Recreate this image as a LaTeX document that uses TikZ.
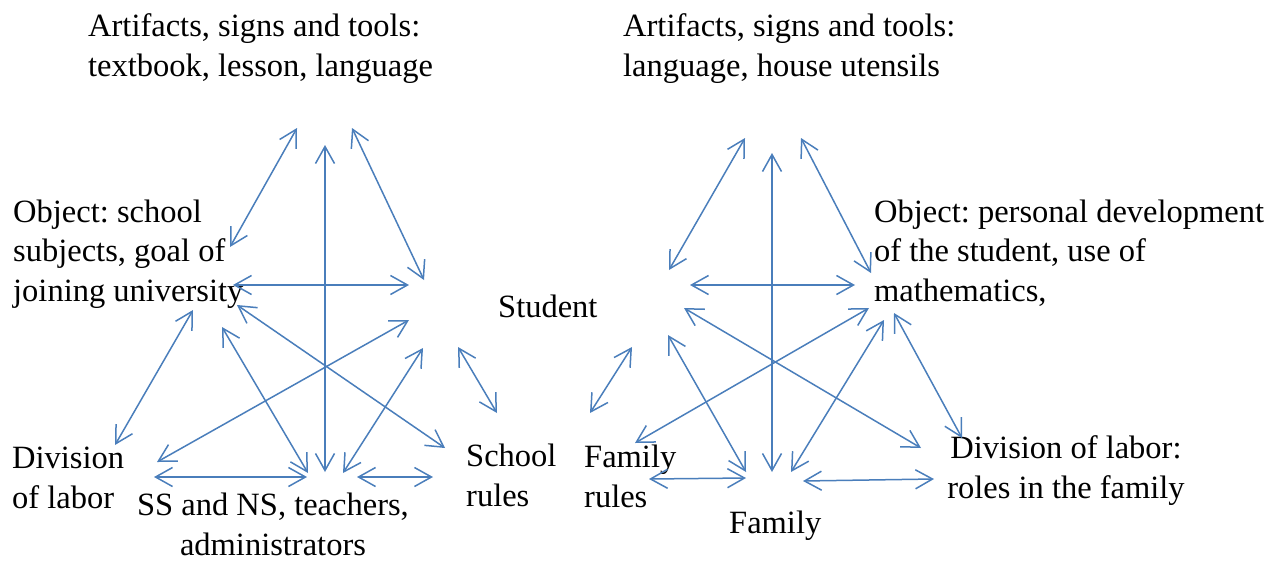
\documentclass[tikz,border=0pt]{standalone}
\usepackage{fontspec}
\setmainfont{Liberation Serif}
\usepackage{xcolor}
\usetikzlibrary{arrows.meta}

\definecolor{linkblue}{RGB}{74,126,187}
\tikzset{
    lbl/.style={inner sep=0pt, anchor=base west, align=left, font=\fontsize{32.5}{39.5}\selectfont\frenchspacing},
    lblc/.style={lbl, anchor=base, align=center},
    link/.style={draw=linkblue, line width=1.5pt,
        {Straight Barb[length=17pt, width=19pt]}-{Straight Barb[length=17pt, width=19pt]}}
}

\begin{document}
\begin{tikzpicture}[x=1pt, y=-1pt]
                \useasboundingbox (0,0) rectangle (1269,560);
                
                % 1. School (left triangle), nodes sit on their last baseline
                \node[lbl] (toolS) at (88,76) {Artifacts, signs and tools:\\textbook, lesson, language};
                \node[lbl] (objS) at (13,301) {Object: school\\subjects, goal of\\joining university};
                \node[lbl] (subj) at (498,317) {Student};
                \node[lbl] (divS) at (12,508) {Division\\of labor};
                \node[lblc] (comS) at (273,555) {SS and NS, teachers,\\administrators};
                \node[lbl] (rulS) at (466,506) {School\\rules};
                
                % 2. Family (right triangle)
                \node[lbl] (toolF) at (623,76) {Artifacts, signs and tools:\\language, house utensils};
                \node[lbl] (objF) at (874,301) {Object: personal development\\of the student, use of\\mathematics,};
                \node[lbl] (rulF) at (584,507) {Family\\rules};
                \node[lbl] (comF) at (729,533) {Family};
                \node[lblc] (divF) at (1066,498) {Division of labor:\\roles in the family};
                
                % 3. Arrow ends, left
                \coordinate (l1-a) at (297,128);  \coordinate (l1-b) at (230,247);
                \coordinate (l2-a) at (325,145);  \coordinate (l2-b) at (325,472);
                \coordinate (l3-a) at (352,128);  \coordinate (l3-b) at (424,280);
                \coordinate (l4-a) at (233,285);  \coordinate (l4-b) at (409,285);
                \coordinate (l5-a) at (193,310);  \coordinate (l5-b) at (115,445);
                \coordinate (l6-a) at (409,320);  \coordinate (l6-b) at (157,462);
                \coordinate (l7-a) at (237,305);  \coordinate (l7-b) at (445,448);
                \coordinate (l8-a) at (222,327);  \coordinate (l8-b) at (308,473);
                \coordinate (l9-a) at (423,348);  \coordinate (l9-b) at (343,473);
                \coordinate (l10-a) at (458,347); \coordinate (l10-b) at (497,413);
                \coordinate (l11-a) at (154,477); \coordinate (l11-b) at (307,477);
                \coordinate (l12-a) at (357,477); \coordinate (l12-b) at (433,477);
                
                % 4. Arrow ends, right
                \coordinate (r1-a) at (745,138);  \coordinate (r1-b) at (669,270);
                \coordinate (r2-a) at (772,153);  \coordinate (r2-b) at (772,472);
                \coordinate (r3-a) at (801,138);  \coordinate (r3-b) at (871,273);
                \coordinate (r4-a) at (690,285);  \coordinate (r4-b) at (855,285);
                \coordinate (r5-a) at (684,308);  \coordinate (r5-b) at (921,448);
                \coordinate (r6-a) at (869,308);  \coordinate (r6-b) at (635,443);
                \coordinate (r7-a) at (668,335);  \coordinate (r7-b) at (746,472);
                \coordinate (r8-a) at (884,320);  \coordinate (r8-b) at (791,472);
                \coordinate (r9-a) at (894,313);  \coordinate (r9-b) at (962,438);
                \coordinate (r10-a) at (632,347); \coordinate (r10-b) at (590,413);
                \coordinate (r11-a) at (649,479); \coordinate (r11-b) at (746,478);
                \coordinate (r12-a) at (803,481); \coordinate (r12-b) at (934,479);
                
                % 5. Double arrows
                \foreach \i in {1,...,12} {
                    \draw[link] (l\i-a) -- (l\i-b);
                    \draw[link] (r\i-a) -- (r\i-b);
                }
            \end{tikzpicture}
\end{document}
